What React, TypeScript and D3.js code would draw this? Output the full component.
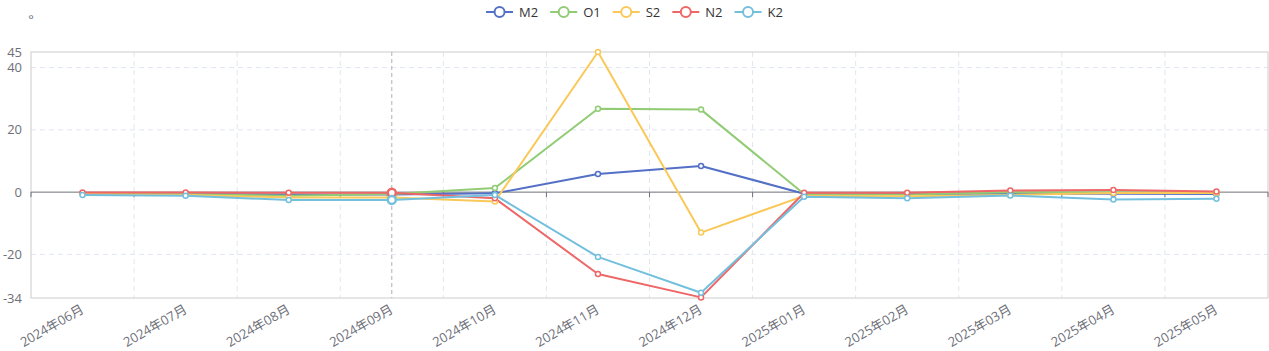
import { useEffect, useRef } from "react";
import * as d3 from "d3";

const months = [
  "2024年06月", "2024年07月", "2024年08月", "2024年09月", "2024年10月", "2024年11月",
  "2024年12月", "2025年01月", "2025年02月", "2025年03月", "2025年04月", "2025年05月",
];

const m2 = [-0.4, -0.5, -0.8, -0.8, -0.4, 5.8, 8.4, -0.5, -0.6, -0.5, -0.5, -0.6];
const o1 = [-0.3, -0.6, -1.2, -0.6, 1.3, 26.8, 26.5, -0.6, -0.8, 0.0, 0.0, -0.2];
const s2 = [-0.6, -0.9, -1.7, -1.7, -3.0, 45, -13.0, -1.2, -1.3, -0.9, -0.3, -0.3];
const n2 = [-0.1, -0.1, -0.2, -0.2, -2.0, -26.3, -33.8, -0.2, -0.2, 0.5, 0.7, 0.2];
const k2 = [-0.9, -1.2, -2.5, -2.5, -0.9, -20.8, -32.3, -1.5, -2.0, -1.1, -2.4, -2.1];

const seriesNames = ["M2", "O1", "S2", "N2", "K2"];
const colors = ["#5470c6", "#91cc75", "#fac858", "#ee6666", "#73c0de"];
const yTicks = [45, 40, 20, 0, -20, -34];
const gridLines = [40, 20, -20];

const Chart = () => {
  const svgRef = useRef<SVGSVGElement>(null);

  useEffect(() => {
    const width = 1269;
    const height = 351;
    const marginTop = 52;
    const marginRight = 1;
    const marginBottom = 53;
    const marginLeft = 31;
    const font = "'Open Sans', 'Noto Sans CJK SC', sans-serif";
    const fs = 13;
    const series = [m2, o1, s2, n2, k2];

    const svg = d3.select(svgRef.current);
    svg.selectAll("*").remove();
    svg.attr("width", width).attr("height", height).style("display", "block");

    const x = d3.scaleBand<string>()
      .domain(months)
      .range([marginLeft, width - marginRight]);

    const y = d3.scaleLinear()
      .domain([-34, 45])
      .range([height - marginBottom, marginTop]);

    const cx = (i: number) => (x(months[i]) as number) + x.bandwidth() / 2;

    // horizontal split lines
    svg.append("g")
      .selectAll("line")
      .data(gridLines)
      .join("line")
      .attr("x1", marginLeft)
      .attr("x2", width - marginRight)
      .attr("y1", d => y(d))
      .attr("y2", d => y(d))
      .attr("stroke", "#e0e6f1")
      .attr("stroke-dasharray", "5,4");

    // vertical split lines at band boundaries
    const bounds = months.slice(1).map(m => x(m) as number);
    svg.append("g")
      .selectAll("line")
      .data(bounds)
      .join("line")
      .attr("x1", d => d)
      .attr("x2", d => d)
      .attr("y1", marginTop)
      .attr("y2", height - marginBottom)
      .attr("stroke", "#e0e6f1")
      .attr("stroke-dasharray", "5,4");

    // grid border
    svg.append("rect")
      .attr("x", marginLeft)
      .attr("y", marginTop)
      .attr("width", width - marginRight - marginLeft)
      .attr("height", height - marginBottom - marginTop)
      .attr("fill", "none")
      .attr("stroke", "#ccc");

    // axis pointer
    svg.append("line")
      .attr("x1", cx(3))
      .attr("x2", cx(3))
      .attr("y1", marginTop)
      .attr("y2", height - marginBottom)
      .attr("stroke", "#b0b0b0")
      .attr("stroke-dasharray", "4,3");

    // x axis on zero
    const xAxis = svg.append("g");
    xAxis.append("line")
      .attr("x1", marginLeft)
      .attr("x2", width - marginRight)
      .attr("y1", y(0))
      .attr("y2", y(0))
      .attr("stroke", "#6e7079");
    xAxis.selectAll("line.tick")
      .data([marginLeft, ...bounds, width - marginRight])
      .join("line")
      .attr("class", "tick")
      .attr("x1", d => d)
      .attr("x2", d => d)
      .attr("y1", y(0))
      .attr("y2", y(0) + 5)
      .attr("stroke", "#6e7079");

    svg.append("g")
      .selectAll("text")
      .data(months)
      .join("text")
      .attr("transform", (d, i) => `translate(${cx(i)},${height - marginBottom + 10}) rotate(-30)`)
      .attr("text-anchor", "end")
      .attr("dy", "0.35em")
      .attr("font-family", font)
      .attr("font-size", fs)
      .attr("fill", "#6e7079")
      .text(d => d);

    // y labels
    svg.append("g")
      .selectAll("text")
      .data(yTicks)
      .join("text")
      .attr("x", marginLeft - 9)
      .attr("y", d => y(d))
      .attr("dy", "0.35em")
      .attr("text-anchor", "end")
      .attr("font-family", font)
      .attr("font-size", fs)
      .attr("fill", "#6e7079")
      .text(d => d);

    svg.append("text")
      .attr("x", marginLeft)
      .attr("y", 24)
      .attr("text-anchor", "middle")
      .attr("font-family", font)
      .attr("font-size", fs)
      .attr("fill", "#6e7079")
      .text("°");

    // lines
    const line = d3.line<number>()
      .x((d, i) => cx(i))
      .y(d => y(d));

    series.forEach((s, k) => {
      svg.append("path")
        .datum(s)
        .attr("fill", "none")
        .attr("stroke", colors[k])
        .attr("stroke-width", 2)
        .attr("stroke-linejoin", "round")
        .attr("d", line);
    });

    series.forEach((s, k) => {
      svg.append("g")
        .selectAll("circle")
        .data(s)
        .join("circle")
        .attr("cx", (d, i) => cx(i))
        .attr("cy", d => y(d))
        .attr("r", (d, i) => (i === 3 ? 4 : 2.5))
        .attr("fill", "#fff")
        .attr("stroke", colors[k])
        .attr("stroke-width", (d, i) => (i === 3 ? 2.5 : 1.5));
    });

    // legend
    const legend = svg.append("g");
    let pos = 0;
    const items = seriesNames.map((name, k) => {
      const g = legend.append("g");
      g.append("line")
        .attr("x1", 0).attr("x2", 27)
        .attr("y1", 0).attr("y2", 0)
        .attr("stroke", colors[k])
        .attr("stroke-width", 2);
      g.append("circle")
        .attr("cx", 13.5).attr("cy", 0).attr("r", 5)
        .attr("fill", "#fff")
        .attr("stroke", colors[k])
        .attr("stroke-width", 2);
      const t = g.append("text")
        .attr("x", 33)
        .attr("dy", "0.35em")
        .attr("font-family", font)
        .attr("font-size", fs)
        .attr("fill", "#333")
        .text(name);
      const w = 33 + (t.node() as SVGTextElement).getComputedTextLength();
      const start = pos;
      pos += w + 12;
      return { g, start };
    });
    const total = pos - 12;
    const left = width / 2 - total / 2;
    items.forEach(({ g, start }) => g.attr("transform", `translate(${left + start},12)`));
  }, []);

  return <svg ref={svgRef}></svg>;
};

export default function App() {
  return (
    <div style={{ position: "absolute", left: 0, top: 0 }}>
      <Chart />
    </div>
  );
}
